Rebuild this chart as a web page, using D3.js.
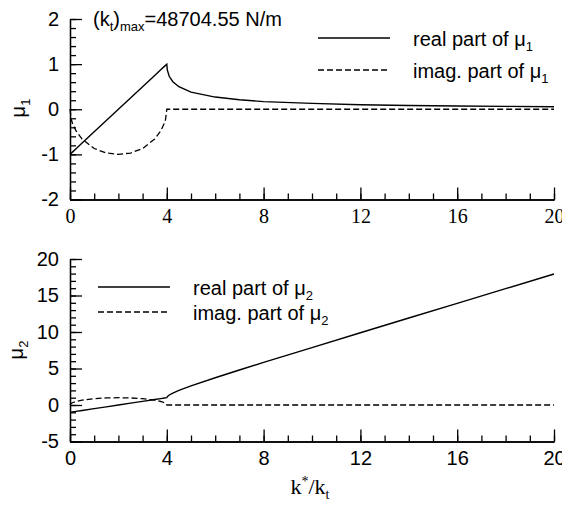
<!DOCTYPE html>
<html>
<head>
<meta charset="utf-8">
<script src="https://cdn.jsdelivr.net/npm/d3@7"></script>
<style>
body { margin: 0; background: #fff; }
svg { display: block; }
</style>
</head>
<body>
<div id="chart"></div>
<script>
// k*/k_t sample points
var kRatio = [0, 0.05, 0.1, 0.25, 0.5, 1, 1.5, 2, 2.5, 3, 3.5, 3.75, 3.9, 3.95, 4,
              4.02, 4.1, 4.25, 4.5, 5, 6, 7, 8, 10, 12, 14, 16, 18, 20]

var mu1Real = [-1, -0.975, -0.95, -0.875, -0.75, -0.5, -0.25, 0, 0.25, 0.5, 0.75, 0.875, 0.95, 0.975, 1,
               0.87, 0.73, 0.61, 0.5, 0.38, 0.27, 0.21, 0.17, 0.13, 0.10, 0.084, 0.072, 0.063, 0.056]
var mu1Imag = [0, -0.22, -0.31, -0.48, -0.66, -0.87, -0.97, -1, -0.97, -0.87, -0.66, -0.48, -0.31, -0.22, 0,
               0, 0, 0, 0, 0, 0, 0, 0, 0, 0, 0, 0, 0, 0]
var mu2Real = [-1, -0.975, -0.95, -0.875, -0.75, -0.5, -0.25, 0, 0.25, 0.5, 0.75, 0.875, 0.95, 0.975, 1,
               1.14, 1.37, 1.64, 2.0, 2.62, 3.73, 4.79, 5.83, 7.87, 9.9, 11.92, 13.93, 15.94, 17.94]
var mu2Imag = [0, 0.22, 0.31, 0.48, 0.66, 0.87, 0.97, 1, 0.97, 0.87, 0.66, 0.48, 0.31, 0.22, 0,
               0, 0, 0, 0, 0, 0, 0, 0, 0, 0, 0, 0, 0, 0]

var xTicks = [0, 4, 8, 12, 16, 20]
var y1Ticks = [-2, -1, 0, 1, 2]
var y2Ticks = [-5, 0, 5, 10, 15, 20]

var width = 562,
    height = 505

var SANS = 'Liberation Sans',
    SERIF = 'Liberation Serif'

var svg = d3.select('#chart').append('svg')
    .attr('width', width)
    .attr('height', height)

function series(vals) {
    return kRatio.map(function (k, i) {
        return { k: k, v: vals[i] }
    })
}

function drawPanel(p) {
    var x = d3.scaleLinear().domain([0, 20]).range([70, 554])
    var y = d3.scaleLinear().domain(p.yDomain).range(p.yRange)
    var y0 = p.yRange[0]

    // minor ticks
    svg.append('g')
        .attr('transform', 'translate(0,' + y0 + ')')
        .call(d3.axisBottom(x).tickValues(d3.range(0, 21, 1)).tickSize(-6).tickSizeOuter(0).tickFormat(''))
    svg.append('g')
        .attr('transform', 'translate(70,0)')
        .call(d3.axisLeft(y).tickValues(d3.range(p.yDomain[0], p.yDomain[1] + 1e-9, p.yMinor)).tickSize(-6).tickSizeOuter(0).tickFormat(''))

    // major ticks
    var xa = svg.append('g')
        .attr('transform', 'translate(0,' + y0 + ')')
        .call(d3.axisBottom(x).tickValues(xTicks).tickSize(-12).tickSizeOuter(0).tickPadding(9).tickFormat(String))
    xa.attr('font-family', p.xFont).attr('font-size', 20)
    xa.selectAll('text').attr('font-family', p.xFont).style('font-family', p.xFont)

    var ya = svg.append('g')
        .attr('transform', 'translate(70,0)')
        .call(d3.axisLeft(y).tickValues(p.yTicks).tickSize(-12).tickSizeOuter(0).tickPadding(11).tickFormat(String))
    ya.attr('font-family', SANS).attr('font-size', 20)

    svg.selectAll('.domain, .tick line').attr('stroke', '#000').attr('stroke-width', 1.3)
    svg.selectAll('.tick text').attr('fill', '#000')

    var line = d3.line()
        .x(function (d) { return x(d.k) })
        .y(function (d) { return y(d.v) })

    svg.append('path')
        .datum(series(p.real))
        .attr('d', line)
        .attr('fill', 'none')
        .attr('stroke', '#000')
        .attr('stroke-width', 1.4)

    svg.append('path')
        .datum(series(p.imag))
        .attr('d', line)
        .attr('fill', 'none')
        .attr('stroke', '#000')
        .attr('stroke-width', 1.3)
        .attr('stroke-dasharray', '6,3')

    // y title
    var t = svg.append('text')
        .attr('font-family', SANS)
        .attr('transform', 'translate(' + p.titlePos[0] + ',' + p.titlePos[1] + ') rotate(-90)')
        .attr('text-anchor', 'middle')
        .attr('font-size', 20)
    t.append('tspan').text('\u03bc')
    t.append('tspan').attr('font-size', 13).attr('dy', 5).text(p.sub)

    // legend
    var items = [
        { label: 'real part of ', dash: null },
        { label: 'imag. part of ', dash: '6,3' }
    ]
    items.forEach(function (d, i) {
        var ly = p.legend.y + i * p.legend.gap
        svg.append('line')
            .attr('x1', p.legend.x1).attr('x2', p.legend.x2)
            .attr('y1', ly).attr('y2', ly)
            .attr('stroke', '#000')
            .attr('stroke-width', 1.3)
            .attr('stroke-dasharray', d.dash)
        var lt = svg.append('text')
            .attr('font-family', SANS)
            .attr('x', p.legend.tx)
            .attr('y', ly + 8)
            .attr('font-size', 20)
        lt.append('tspan').text(d.label + '\u03bc')
        lt.append('tspan').attr('font-size', 13).attr('dy', 5).text(p.sub)
    })
}

drawPanel({
    yDomain: [-2, 2], yRange: [199.5, 19], yTicks: y1Ticks, yMinor: 0.2,
    xFont: SERIF, real: mu1Real, imag: mu1Imag, sub: '1',
    titlePos: [25, 108],
    legend: { x1: 318, x2: 390, tx: 413, y: 38, gap: 32 }
})

drawPanel({
    yDomain: [-5, 20], yRange: [441.5, 259], yTicks: y2Ticks, yMinor: 1,
    xFont: SANS, real: mu2Real, imag: mu2Imag, sub: '2',
    titlePos: [23, 350],
    legend: { x1: 98, x2: 170, tx: 193, y: 287, gap: 25 }
})

// annotation
var ann = svg.append('text')
    .attr('font-family', SANS)
    .attr('x', 93)
    .attr('y', 26)
    .attr('font-size', 20)
ann.append('tspan').text('(k')
ann.append('tspan').attr('font-size', 13).attr('dy', 5).text('t')
ann.append('tspan').attr('dy', -5).text(')')
ann.append('tspan').attr('font-size', 13).attr('dy', 5).text('max')
ann.append('tspan').attr('dy', -5).text('=48704.55 N/m')

// x title
var xt = svg.append('text')
    .attr('font-family', SERIF)
    .attr('x', 310)
    .attr('y', 494)
    .attr('text-anchor', 'middle')
    .attr('font-size', 22)
xt.append('tspan').text('k')
xt.append('tspan').attr('font-size', 14).attr('dy', -8).text('*')
xt.append('tspan').attr('dy', 8).text('/k')
xt.append('tspan').attr('font-size', 14).attr('dy', 5).text('t')
</script>
</body>
</html>
